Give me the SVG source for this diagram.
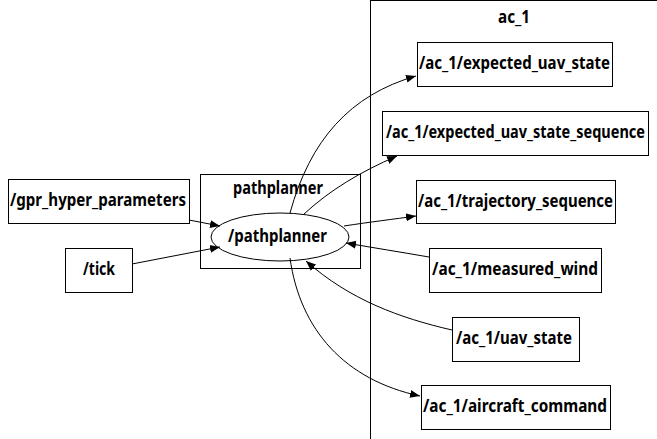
<svg xmlns="http://www.w3.org/2000/svg" width="657" height="439" viewBox="0 0 657 439">
<style>
text{font-family:"Noto Sans","Open Sans","DejaVu Sans Condensed",sans-serif;font-stretch:condensed;font-size:17px;font-weight:700;fill:#000}
.n{fill:none;stroke:#000;stroke-width:1}
.e{fill:none;stroke:#000;stroke-width:1;marker-end:url(#a)}
</style>
<defs>
<marker id="a" markerWidth="11" markerHeight="9" refX="10" refY="4.5" orient="auto" markerUnits="userSpaceOnUse">
<path d="M0,0.5 L10,4.5 L0,8.5 Z" fill="#000"/>
</marker>
</defs>
<rect width="657" height="439" fill="#fff"/>
<g id="cluster_ac_1">
<rect class="n" x="370.5" y="0.5" width="300" height="450"/>
<text x="498" y="23" textLength="32" lengthAdjust="spacingAndGlyphs">ac_1</text>
</g>
<g id="cluster_pathplanner">
<rect class="n" x="200.5" y="174.5" width="160" height="94"/>
<text x="233" y="194" textLength="90" lengthAdjust="spacingAndGlyphs">pathplanner</text>
</g>
<g id="n_pathplanner">
<ellipse class="n" cx="280" cy="237" rx="69" ry="24"/>
<text x="228" y="242" textLength="99" lengthAdjust="spacingAndGlyphs">/pathplanner</text>
</g>
<g id="n_gpr">
<rect class="n" x="8.5" y="179.5" width="181" height="44"/>
<text x="10" y="206" textLength="176" lengthAdjust="spacingAndGlyphs">/gpr_hyper_parameters</text>
</g>
<g id="n_tick">
<rect class="n" x="65.5" y="248.5" width="67" height="44"/>
<text x="83" y="275" textLength="32" lengthAdjust="spacingAndGlyphs">/tick</text>
</g>
<g id="n_expected_uav_state">
<rect class="n" x="417.5" y="42.5" width="195" height="44"/>
<text x="419" y="69" textLength="191" lengthAdjust="spacingAndGlyphs">/ac_1/expected_uav_state</text>
</g>
<g id="n_expected_uav_state_sequence">
<rect class="n" x="382.5" y="111.5" width="266" height="44"/>
<text x="386" y="138" textLength="259" lengthAdjust="spacingAndGlyphs">/ac_1/expected_uav_state_sequence</text>
</g>
<g id="n_trajectory_sequence">
<rect class="n" x="416.5" y="180.5" width="199" height="43"/>
<text x="418" y="207" textLength="195" lengthAdjust="spacingAndGlyphs">/ac_1/trajectory_sequence</text>
</g>
<g id="n_measured_wind">
<rect class="n" x="429.5" y="248.5" width="172" height="44"/>
<text x="432" y="275" textLength="166" lengthAdjust="spacingAndGlyphs">/ac_1/measured_wind</text>
</g>
<g id="n_uav_state">
<rect class="n" x="452.5" y="317.5" width="127" height="44"/>
<text x="456" y="344" textLength="116" lengthAdjust="spacingAndGlyphs">/ac_1/uav_state</text>
</g>
<g id="n_aircraft_command">
<rect class="n" x="421.5" y="385.5" width="189" height="44"/>
<text x="423" y="412" textLength="184" lengthAdjust="spacingAndGlyphs">/ac_1/aircraft_command</text>
</g>
<g id="edges">
<path class="e" d="M189,220 L220,226"/>
<path class="e" d="M132,264 L220,247"/>
<path class="e" d="M290,213 C310,140 350,95 416,76"/>
<path class="e" d="M304,214 C330,190 360,172 397,156"/>
<path class="e" d="M344,226 C370,222 395,219 416,216"/>
<path class="e" d="M429,257 C400,252 375,248 346,243"/>
<path class="e" d="M452,330 C400,318 350,300 306,261"/>
<path class="e" d="M290,258 C300,330 345,380 420,396"/>
</g>
</svg>
